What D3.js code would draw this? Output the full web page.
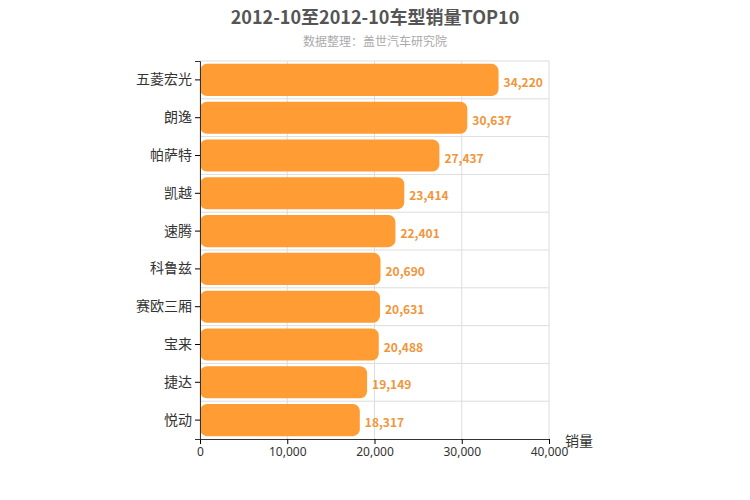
<!DOCTYPE html>
<html><head><meta charset="utf-8">
<script src="https://cdn.jsdelivr.net/npm/d3@7"></script>
<style>body{margin:0;background:#fff;font-family:"Noto Sans CJK SC","Noto Sans",sans-serif}</style>
</head><body><svg id="c" width="750" height="500"></svg>
<script>
const categories=["五菱宏光","朗逸","帕萨特","凯越","速腾","科鲁兹","赛欧三厢","宝来","捷达","悦动"];
const values=[34220,30637,27437,23414,22401,20690,20631,20488,19149,18317];
const xTicks=[0,10000,20000,30000,40000];
const svg=d3.select("#c");
const L=200,R=549,T=61,B=439;
const x=d3.scaleLinear().domain([0,40000]).range([L,R]);
const y=d3.scaleBand().domain(categories).range([T,B]).paddingInner(0.15).paddingOuter(0.075);
const yb=d3.scaleBand().domain(categories).range([T,B]);
const g=svg.append("g");
xTicks.forEach(t=>g.append("line").attr("x1",x(t)).attr("x2",x(t)).attr("y1",T).attr("y2",B).attr("stroke","#ddd"));
categories.forEach(c=>g.append("line").attr("x1",L).attr("x2",R).attr("y1",yb(c)).attr("y2",yb(c)).attr("stroke","#ddd"));
categories.forEach((c,i)=>{
 g.append("rect").attr("x",x(0)).attr("y",y(c)).attr("width",x(values[i])-x(0)).attr("height",y.bandwidth()).attr("rx",7).attr("fill","#ff9c33");
 g.append("text").attr("x",x(values[i])+5).attr("y",y(c)+y.bandwidth()/2+7).text(d3.format(",")(values[i])).attr("fill","#f0963a").attr("font-size",12).attr("font-weight","bold");
});
const xa=svg.append("g").attr("transform",`translate(0,${B})`).call(d3.axisBottom(x).tickValues(xTicks).tickFormat(d3.format(",")).tickSize(5));
xa.select(".domain").attr("stroke","#333");
xa.selectAll("text").attr("font-size",12).attr("fill","#333").attr("font-family","Noto Sans");
const ya=svg.append("g").attr("transform",`translate(${L},0)`).call(d3.axisLeft(yb).tickSize(5));
ya.select(".domain").attr("stroke","#333");
ya.selectAll("text").attr("font-size",14).attr("fill","#333").attr("font-family","Noto Sans CJK SC");
svg.append("text").attr("x",565).attr("y",446).text("销量").attr("font-size",14).attr("fill","#333");
svg.append("text").attr("x",375).attr("y",24).attr("text-anchor","middle").text("2012-10至2012-10车型销量TOP10").attr("font-size",18).attr("font-weight","bold").attr("fill","#555");
svg.append("text").attr("x",375).attr("y",46).attr("text-anchor","middle").text("数据整理：盖世汽车研究院").attr("font-size",12).attr("fill","#aaa");
</script></body></html>
